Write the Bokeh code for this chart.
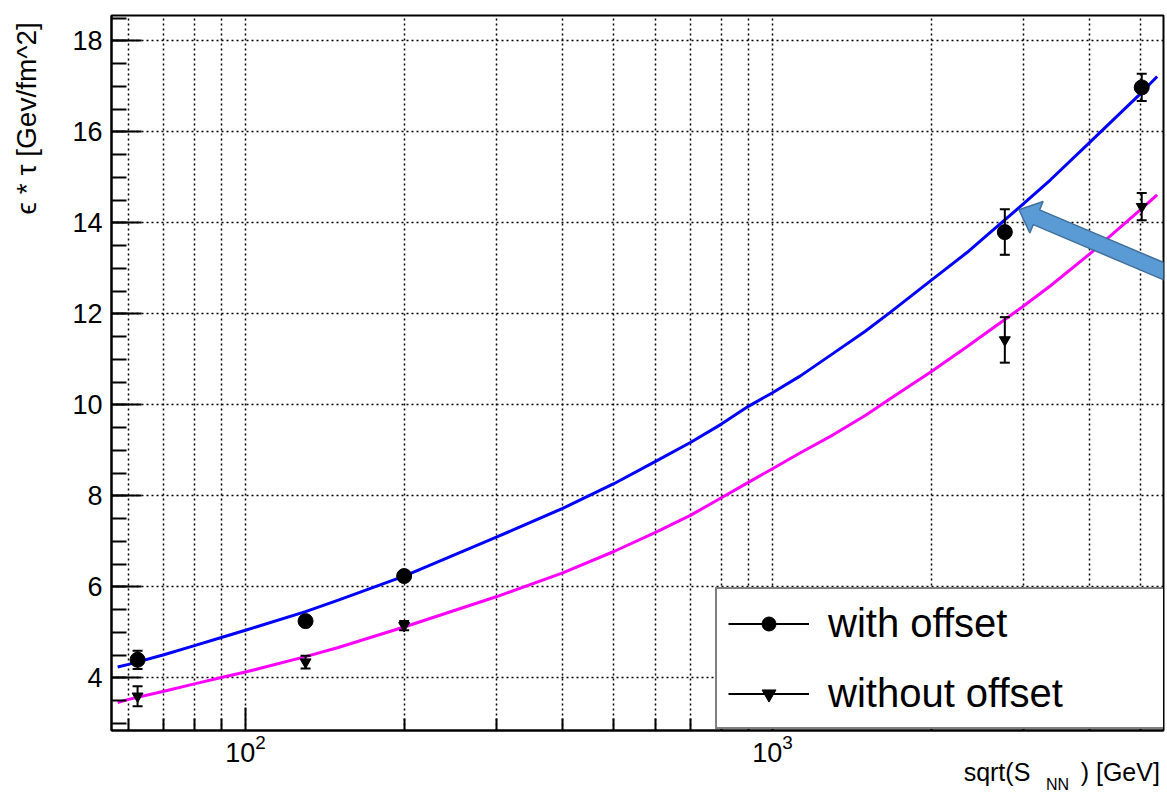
import math
from bokeh.plotting import figure
from bokeh.models import (FixedTicker, SingleIntervalTicker, LogTickFormatter, Legend,
                          LegendItem, Range1d, LogAxis, LinearAxis)
from bokeh.embed import file_html
from bokeh.resources import INLINE

# ---------------- data ----------------
energy = [62.4, 130, 200, 2760, 5020]
with_offset = [4.40, 5.25, 6.24, 13.80, 16.98]
with_offset_err = [0.20, 0.10, 0.10, 0.50, 0.30]
without_offset = [3.60, 4.35, 5.15, 11.43, 14.36]
without_offset_err = [0.22, 0.14, 0.10, 0.50, 0.30]

fit_x = [57.2, 60, 70, 80, 90, 100, 130, 150, 200, 300, 400, 500, 600, 700, 800,
         900, 1000, 1130, 1306, 1500, 1675, 2000, 2339, 2500, 3000, 3370, 4000, 5000, 5370]
fit_with = [4.24, 4.30, 4.51, 4.71, 4.89, 5.05, 5.46, 5.71, 6.24, 7.10, 7.73, 8.27,
            8.76, 9.18, 9.58, 9.97, 10.27, 10.64, 11.14, 11.62, 12.04, 12.74, 13.35,
            13.64, 14.43, 14.95, 15.77, 16.85, 17.22]
fit_without = [3.46, 3.53, 3.71, 3.87, 4.01, 4.13, 4.47, 4.67, 5.12, 5.79, 6.31, 6.78,
               7.20, 7.58, 7.96, 8.30, 8.60, 8.95, 9.35, 9.77, 10.14, 10.73, 11.28,
               11.52, 12.18, 12.62, 13.32, 14.30, 14.62]

x_major_ticks = [100, 1000]
x_minor_ticks = [60, 70, 80, 90, 200, 300, 400, 500, 600, 700, 800, 900,
                 2000, 3000, 4000, 5000]

labels = ["with offset", "without offset"]
y_title = "\u03f5 * \u03c4 [Gev/fm^2]"
x_title_parts = ["sqrt(S", ") [GeV]"]
x_title_sub = "NN"

# ---------------- figure ----------------
X0, X1 = 55.68, 5521.0
Y0, Y1 = 2.846, 18.56
W, H = 1167, 800
ML, MR, MT, MB = 111, 4, 15, 70

p = figure(width=W, height=H, x_axis_type="log", output_backend="svg",
           toolbar_location=None, x_range=Range1d(X0, X1), y_range=Range1d(Y0, Y1),
           min_border_left=ML, min_border_right=MR, min_border_top=MT, min_border_bottom=MB)
p.background_fill_color = "white"
p.border_fill_color = "white"
p.outline_line_color = "black"
p.outline_line_width = 2

FONT = "Liberation Sans"

xt = FixedTicker(ticks=x_major_ticks, minor_ticks=x_minor_ticks)
p.xaxis.ticker = xt
p.xgrid.ticker = xt
p.xaxis.formatter = LogTickFormatter()
yt = SingleIntervalTicker(interval=2, num_minor_ticks=4)
p.yaxis.ticker = yt
p.ygrid.ticker = yt

for ax in (p.xaxis, p.yaxis):
    ax.axis_line_color = "black"
    ax.axis_line_width = 2
    ax.major_tick_line_color = "black"
    ax.minor_tick_line_color = "black"
    ax.major_tick_line_width = 2
    ax.minor_tick_line_width = 2
    ax.major_tick_out = 0
    ax.minor_tick_out = 0
    ax.major_label_text_font = FONT
    ax.major_label_text_font_size = "27px"
    ax.major_label_text_color = "black"
p.xaxis.major_tick_in = 23
p.xaxis.minor_tick_in = 12
p.yaxis.major_tick_in = 30
p.yaxis.minor_tick_in = 15
p.xaxis.major_label_standoff = 3
p.yaxis.major_label_standoff = 9


def title_axis(kind, ticks, texts, size, standoff, orientation="horizontal"):
    ax = kind(ticker=FixedTicker(ticks=ticks, minor_ticks=[]),
              major_label_overrides={t: s for t, s in zip(ticks, texts)},
              axis_line_color=None, major_tick_line_color=None, minor_tick_line_color=None,
              major_tick_in=0, major_tick_out=0, minor_tick_in=0, minor_tick_out=0,
              major_label_standoff=standoff, major_label_orientation=orientation,
              major_label_text_font=FONT, major_label_text_font_size=size,
              major_label_text_color="black")
    return ax

# x-axis title "sqrt(S_NN) [GeV]" (written as text rows under the x axis)
p.add_layout(title_axis(LogAxis, [2667, 4571], x_title_parts, "25px", -7), "below")
p.add_layout(title_axis(LogAxis, [3474], [x_title_sub], "16px", -13), "below")
# y-axis title, top-aligned like the original
p.add_layout(title_axis(LinearAxis, [16.3], [y_title], "28px", 27, "parallel"), "left")

for g in (p.xgrid, p.ygrid):
    g.grid_line_color = "black"
    g.grid_line_dash = "2 3"
    g.grid_line_width = 1.5
p.xgrid.minor_grid_line_color = "black"
p.xgrid.minor_grid_line_dash = "2 3"
p.xgrid.minor_grid_line_width = 1.5

# ---------------- fits ----------------
p.line(fit_x, fit_with, line_color="#0000FF", line_width=3)
p.line(fit_x, fit_without, line_color="#FF00FF", line_width=3)

# ---------------- points with errors ----------------
def series(vals, errs, marker, size):
    lo = [v - e for v, e in zip(vals, errs)]
    hi = [v + e for v, e in zip(vals, errs)]
    seg = p.segment(energy, lo, energy, hi, line_color="black", line_width=2)
    p.scatter(energy, lo, marker="dash", size=10, line_color="black", line_width=2)
    p.scatter(energy, hi, marker="dash", size=10, line_color="black", line_width=2)
    pts = p.scatter(energy, vals, marker=marker, size=size, fill_color="black",
                    line_color="black")
    return seg, pts

seg1, pts1 = series(with_offset, with_offset_err, "circle", 15)
seg2, pts2 = series(without_offset, without_offset_err, "inverted_triangle", 11)

# ---------------- arrow annotation ----------------
ppd = (W - ML - MR) / (math.log10(X1) - math.log10(X0))
ppu = (H - MT - MB) / (Y1 - Y0)
tip_x, tip_y = 2936.0, 14.29
ang = math.radians(23)
ux, uy = math.cos(ang), math.sin(ang)
nx, ny = -uy, ux
L, hw, sw, T = 19, 17, 8, 240
shape = [(0, 0), (L * ux + hw * nx, L * uy + hw * ny), (L * ux + sw * nx, L * uy + sw * ny),
         (T * ux + sw * nx, T * uy + sw * ny), (T * ux - sw * nx, T * uy - sw * ny),
         (L * ux - sw * nx, L * uy - sw * ny), (L * ux - hw * nx, L * uy - hw * ny)]
arx = [10 ** (math.log10(tip_x) + dx / ppd) for dx, dy in shape]
ary = [tip_y - dy / ppu for dx, dy in shape]
p.patch(arx, ary, fill_color="#5B9BD5", line_color="#41719C", line_width=1.5)

# ---------------- legend ----------------
legend = Legend(items=[LegendItem(label=labels[0], renderers=[seg1, pts1]),
                       LegendItem(label=labels[1], renderers=[seg2, pts2])],
                location=(604, 1), orientation="vertical", margin=0,
                glyph_width=81, glyph_height=35, label_height=46, label_width=326,
                label_standoff=19, padding=11, spacing=24,
                label_text_font=FONT, label_text_font_size="40px",
                label_text_color="black",
                border_line_color="black", border_line_width=2,
                background_fill_color="white", background_fill_alpha=1.0)
p.add_layout(legend)

open("out.html", "w").write(file_html(p, INLINE))
